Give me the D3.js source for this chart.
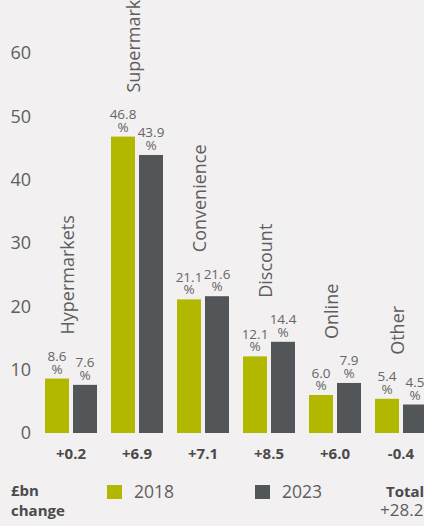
<!DOCTYPE html>
<html>
<head>
<meta charset="utf-8">
<script src="https://cdn.jsdelivr.net/npm/d3@7"></script>
<style>
  html, body { margin: 0; padding: 0; background: #f2f0f1; }
  svg { display: block; font-family: "Open Sans", "Noto Sans", sans-serif; }
</style>
</head>
<body>
<svg id="chart" width="424" height="526"></svg>
<script>
const categories = ["Hypermarkets", "Supermarkets", "Convenience", "Discount", "Online", "Other"];
const years = ["2018", "2023"];
const share2018 = [8.6, 46.8, 21.1, 12.1, 6.0, 5.4];
const share2023 = [7.6, 43.9, 21.6, 14.4, 7.9, 4.5];
const changeBn = ["+0.2", "+6.9", "+7.1", "+8.5", "+6.0", "-0.4"];
const yTicks = [0, 10, 20, 30, 40, 50, 60];
const totalChange = "+28.2";

const colors = { "2018": "#b2b800", "2023": "#535659" };
const textGray = "#5e5e5e";

const rows = categories.map((c, i) => ({ cat: c, values: [
  { year: "2018", v: share2018[i] },
  { year: "2023", v: share2023[i] }
], change: changeBn[i] }));

const svg = d3.select("#chart");

const y = d3.scaleLinear().domain([0, 60]).range([433, 53]);
const x0 = d3.scaleBand().domain(categories).range([38, 434])
  .paddingInner(14 / 66).paddingOuter(7 / 66);
const x1 = d3.scaleBand().domain(years).range([0, x0.bandwidth()])
  .paddingInner(4 / 28).paddingOuter(0);

// y axis (labels only)
const yAxis = d3.axisLeft(y).tickValues(yTicks).tickSize(0).tickPadding(0);
const gy = svg.append("g").attr("transform", "translate(31,0)").call(yAxis);
gy.select(".domain").remove();
gy.selectAll("text")
  .attr("font-size", 18)
  .attr("fill", textGray)
  .attr("font-family", "Open Sans, sans-serif");

// groups
const g = svg.append("g").selectAll("g").data(rows).join("g")
  .attr("transform", d => `translate(${x0(d.cat)},0)`);

g.selectAll("rect").data(d => d.values).join("rect")
  .attr("x", d => x1(d.year))
  .attr("width", x1.bandwidth())
  .attr("y", d => y(d.v))
  .attr("height", d => y(0) - y(d.v))
  .attr("fill", d => colors[d.year]);

// value labels
const vl = g.selectAll("text.val").data(d => d.values).join("text")
  .attr("class", "val")
  .attr("text-anchor", "middle")
  .attr("font-size", 13.5)
  .attr("fill", "#666");
vl.append("tspan")
  .attr("x", d => x1(d.year) + x1.bandwidth() / 2)
  .attr("y", d => y(d.v) - 17.5)
  .text(d => d.v.toFixed(1));
vl.append("tspan")
  .attr("x", d => x1(d.year) + x1.bandwidth() / 2)
  .attr("y", d => y(d.v) - 5)
  .text("%");

// category labels (rotated)
g.append("text")
  .attr("transform", d => {
    const m = d3.max(d.values, v => v.v);
    return `translate(${x0.bandwidth() / 2 + 3},${y(m) - 44}) rotate(-90)`;
  })
  .attr("font-size", 18)
  .attr("fill", textGray)
  .text(d => d.cat);

// change values
g.append("text")
  .attr("x", x0.bandwidth() / 2)
  .attr("y", 459)
  .attr("text-anchor", "middle")
  .attr("font-size", 15)
  .attr("font-weight", "bold")
  .attr("fill", "#4a4a4a")
  .text(d => d.change);

// bottom labels
const bl = svg.append("text").attr("x", 11).attr("font-size", 15)
  .attr("font-weight", "bold").attr("fill", "#4a4a4a");
bl.append("tspan").attr("x", 11).attr("y", 496).text("£bn");
bl.append("tspan").attr("x", 11).attr("y", 516).text("change");

// legend
const legendX = { "2018": 107, "2023": 255 };
const lg = svg.append("g").selectAll("g").data(years).join("g")
  .attr("transform", d => `translate(${legendX[d]},485)`);
lg.append("rect").attr("width", 15).attr("height", 14).attr("fill", d => colors[d]);
lg.append("text").attr("x", 27).attr("y", 13).attr("font-size", 17.5)
  .attr("fill", textGray).text(d => d);

// total
svg.append("text").attr("x", 386).attr("y", 497).attr("font-size", 15)
  .attr("font-weight", "bold").attr("fill", "#4a4a4a").text("Total");
svg.append("text").attr("x", 380).attr("y", 516).attr("font-size", 17)
  .attr("fill", textGray).text(totalChange);
</script>
</body>
</html>
